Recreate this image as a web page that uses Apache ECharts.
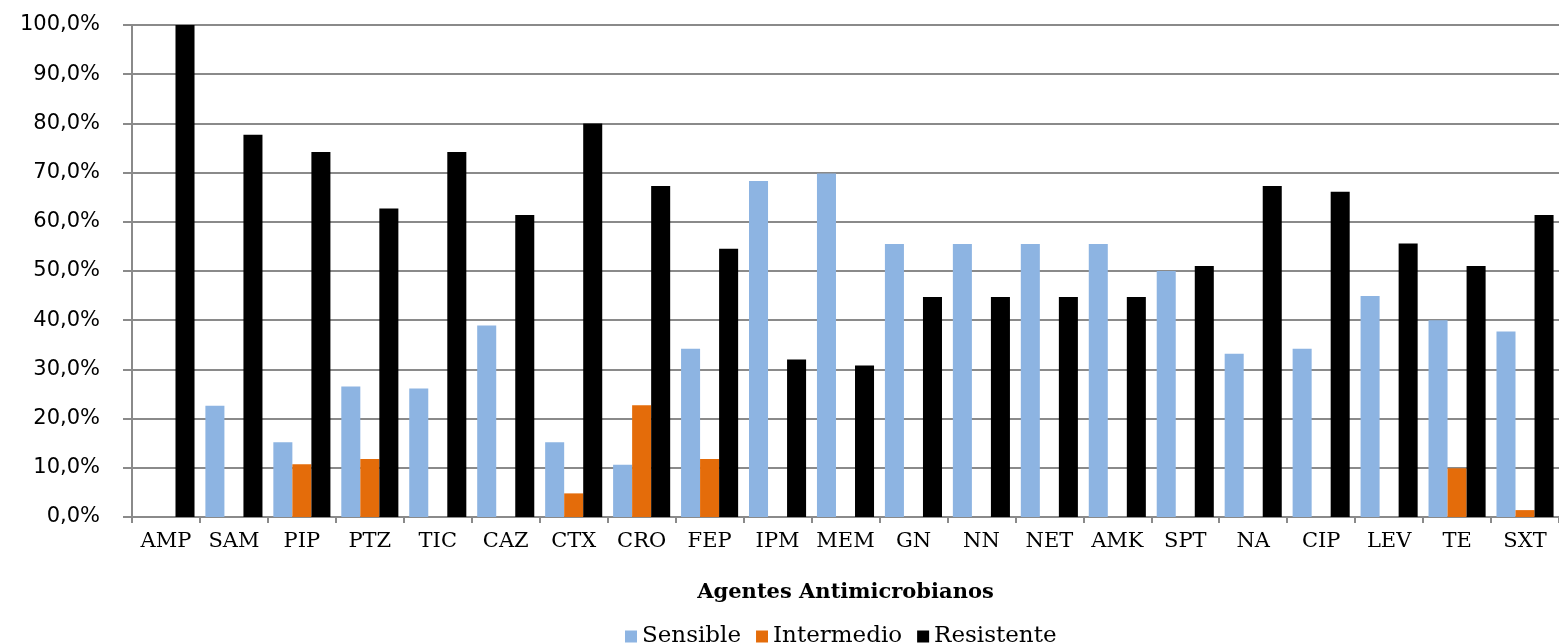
<!DOCTYPE html>
<html>
<head>
<meta charset="utf-8">
<script src="https://cdn.jsdelivr.net/npm/echarts@6/dist/echarts.min.js"></script>
<style>html,body{margin:0;padding:0;background:#fff;}#c{width:1559px;height:644px;}</style>
</head>
<body>
<div id="c"></div>
<script>
const categories = ['AMP','SAM','PIP','PTZ','TIC','CAZ','CTX','CRO','FEP','IPM','MEM','GN','NN','NET','AMK','SPT','NA','CIP','LEV','TE','SXT'];
const sensible   = [0, 22.6, 15.2, 26.5, 26.1, 38.9, 15.2, 10.6, 34.2, 68.3, 69.8, 55.5, 55.5, 55.5, 55.5, 50.0, 33.2, 34.2, 44.9, 40.0, 37.7];
const intermedio = [0, 0, 10.7, 11.8, 0, 0, 4.8, 22.7, 11.8, 0, 0, 0, 0, 0, 0, 0, 0, 0, 0, 9.9, 1.4];
const resistente = [100, 77.7, 74.2, 62.7, 74.2, 61.4, 80.0, 67.3, 54.5, 32.0, 30.8, 44.7, 44.7, 44.7, 44.7, 51.0, 67.3, 66.1, 55.6, 51.0, 61.4];
const seriesNames = ['Sensible', 'Intermedio', 'Resistente'];
const xTitle = 'Agentes Antimicrobianos';

const chart = echarts.init(document.getElementById('c'));
const serif = "'DejaVu Serif', 'Liberation Serif', serif";
chart.setOption({
  animation: false,
  backgroundColor: '#fff',
  grid: { left: 132, top: 25, right: -6, bottom: 127, containLabel: false },
  legend: {
    top: 620, left: 620,
    itemWidth: 12, itemHeight: 12, itemGap: 15,
    icon: 'rect',
    textStyle: { fontFamily: serif, fontSize: 23, color: '#000' },
    data: seriesNames
  },
  xAxis: {
    type: 'category',
    data: categories,
    name: xTitle,
    nameLocation: 'middle',
    nameGap: 65,
    nameTextStyle: { fontFamily: serif, fontSize: 21, fontWeight: 'bold', color: '#000' },
    axisLine: { lineStyle: { color: '#8a8a8a', width: 2 } },
    axisTick: { show: true, length: 6, lineStyle: { color: '#8a8a8a', width: 2 } },
    axisLabel: { fontFamily: serif, fontSize: 21, color: '#000', margin: 14, interval: 0 }
  },
  yAxis: {
    type: 'value',
    min: 0, max: 100, interval: 10,
    axisLine: { show: true, lineStyle: { color: '#8a8a8a', width: 2 } },
    axisTick: { show: true, length: 9, lineStyle: { color: '#8a8a8a', width: 2 } },
    splitLine: { lineStyle: { color: '#8a8a8a', width: 2 } },
    axisLabel: {
      fontFamily: "'DejaVu Sans', Verdana, sans-serif", fontSize: 21, color: '#000', margin: 32,
      formatter: v => v.toFixed(1).replace('.', ',') + '%'
    }
  },
  series: [
    { name: seriesNames[0], type: 'bar', data: sensible, itemStyle: { color: '#8db4e2' }, barGap: '0%', barCategoryGap: '16%' },
    { name: seriesNames[1], type: 'bar', data: intermedio, itemStyle: { color: '#e46c0a' }, barGap: '0%', barCategoryGap: '16%' },
    { name: seriesNames[2], type: 'bar', data: resistente, itemStyle: { color: '#000000' }, barGap: '0%', barCategoryGap: '16%' }
  ]
});
</script>
</body>
</html>
